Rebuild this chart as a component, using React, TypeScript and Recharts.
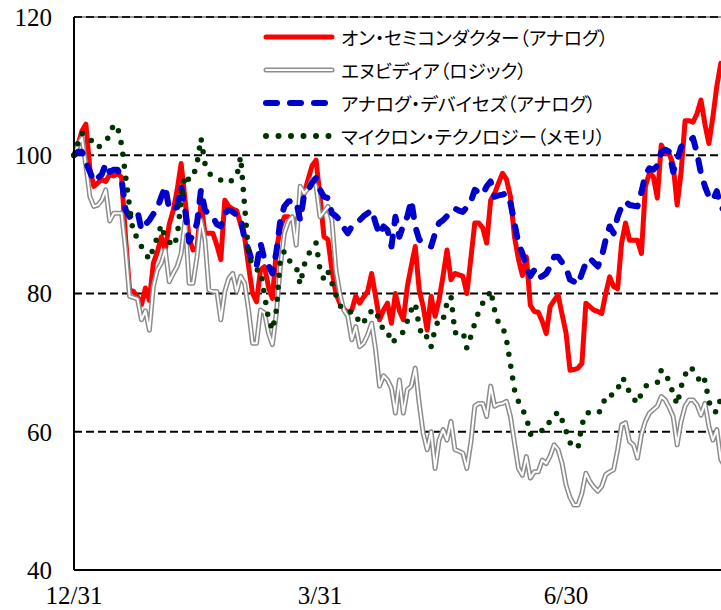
import { LineChart, Line, XAxis, YAxis, CartesianGrid, ReferenceLine, Legend } from "recharts";

// trading days since 12/31 where the quarter-end labels sit
const xTickDays = [0, 62, 124];
const xTickLabels = ["12/31", "3/31", "6/30"];
const xDomainEnd = 188;
const yTicks = [40, 60, 80, 100, 120];

const seriesLabels = {
    on: "オン・セミコンダクター（アナログ）",
    nvda: "エヌビディア（ロジック）",
    adi: "アナログ・デバイセズ（アナログ）",
    mu: "マイクロン・テクノロジー（メモリ）",
};

// indexed to 100 at 12/31, one value per trading day
const onSemi = [
    100, 101.5, 103.5, 104.5, 98, 95.5, 96, 96.5, 96.2, 97.2,
    97, 97.4, 96.8, 88, 80.5, 80.3, 79.5, 78.4, 80.8, 79,
    84.4, 86, 88.2, 86.3, 90, 92, 95, 98.8, 93.5, 88,
    86.3, 86.5, 93.1, 88.7, 88.7, 88.7, 87, 84.9, 93.5, 92.6,
    92.2, 92, 90, 88.2, 83.9, 80, 78.8, 83.4, 83.9, 81,
    79.3, 86.3, 89.5, 91.1, 91.1, 90.5, 90.2, 92, 94.5, 96.5,
    98.5, 99.3, 94, 88.2, 87.8, 83.4, 80, 78.6, 77.8, 77.2,
    77.6, 79.6, 78.6, 79.5, 80.3, 82.9, 79.6, 76.2, 77.6, 78.6,
    75.7, 80, 77.5, 76.2, 81, 84, 86.8, 80.5, 78.1, 74.7,
    79.6, 76.7, 79.1, 82.5, 86.3, 82, 82.9, 82.7, 82.5, 80,
    85, 90.2, 90.2, 89.5, 87.3, 93.5, 94.5, 96, 97.4, 96.5,
    94, 88.2, 85, 82.6, 85.3, 78.3, 77.4, 77.3, 76, 74.2,
    78.1, 79, 79.8, 77, 74.3, 68.9, 69, 69.2, 69.9, 78.6,
    78.1, 77.6, 77.4, 77.1, 80, 82.4, 81, 80.7, 87.3, 90.2,
    87.7, 87.7, 87.7, 85.8, 95.5, 97.4, 96.9, 93.8, 101.5, 100.3,
    100.2, 98.6, 92.8, 97.6, 105, 105, 104.8, 106, 108, 104.5,
    101.7, 105.5, 110, 113.3, 112,
];

const nvidia = [
    100, 101.5, 102.5, 98.5, 94, 92.6, 92.8, 93.5, 95, 90.5,
    91.6, 91.6, 91.6, 86.3, 79.6, 79.4, 79.2, 76.2, 77.5, 74.7,
    81, 83.4, 84.4, 86.3, 81.7, 82.9, 83.9, 85.8, 90.6, 81.5,
    81.5, 85.3, 90.6, 87.8, 80.5, 80.3, 80.3, 76.2, 80.3, 82.2,
    82.9, 80.3, 82.5, 81.5, 77.6, 72.8, 72.8, 77.6, 77.2, 74.3,
    72.6, 77.2, 83.9, 88.7, 90.4, 91.1, 87, 95.5, 94.5, 95.2,
    96.5, 95.5, 91.1, 91.8, 92.6, 90.6, 83.4, 80, 77.6, 76.7,
    73.3, 75.2, 72.3, 72.8, 74, 75.7, 71.9, 66.6, 68.1, 67.5,
    66.3, 62.7, 67.5, 62.7, 66.1, 66.6, 69.2, 64.1, 59.8, 57.4,
    60, 54.7, 58.8, 60.3, 58.8, 61.5, 57.4, 57.2, 56.9, 54.7,
    58.4, 63.7, 64.1, 64.1, 62.2, 66.6, 63.7, 64, 64.1, 64.4,
    62.2, 58.4, 54.7, 53.7, 56.4, 53.3, 54.2, 54.2, 55.9, 55.4,
    56.5, 58.1, 57.4, 55.4, 52.3, 50.5, 49.4, 49.4, 51.1, 54,
    52.8, 52, 51.4, 52.1, 53.8, 54.2, 54.5, 57.4, 61, 61.3,
    58.6, 58.1, 56.2, 59.6, 61.5, 62.7, 63.2, 63.7, 65.1, 64.6,
    63.5, 62.2, 58.1, 61.5, 63.7, 64.6, 64.6, 63.9, 62.4, 64.1,
    60.8, 58.8, 60.3, 56, 55,
];

const analogDevices = [
    100, 100.5, 100.5, 99, 97.6, 96.2, 96.7, 97.2, 98.8, 97.6,
    97.9, 97.9, 96.5, 92.1, 91.1, 91.5, 91.9, 89.2, 90, 90.6,
    91.5, 92.3, 94, 95.5, 92.1, 92.3, 92.5, 95.5, 92.1, 87.5,
    88.5, 90.2, 95, 92.1, 91.4, 91.1, 90, 89.7, 91.6, 92.1,
    91.8, 91.4, 91, 87.8, 86.3, 84.4, 83.9, 87.3, 84.9, 84.1,
    82.9, 86, 90.6, 92.6, 93.3, 93.4, 93.3, 90.6, 94.3, 95,
    96, 96.7, 95, 94, 93.8, 91.6, 91.2, 90.6, 89.5, 88.7,
    89.7, 90.2, 90.6, 91.2, 91.6, 92.1, 90.2, 88.5, 89.7, 89.2,
    86.8, 91.1, 88.2, 89.9, 91.1, 93.5, 89.7, 87.8, 87.3, 87,
    86.8, 88.7, 90.2, 90.6, 91.2, 91.6, 92.3, 92, 91.8, 92.5,
    93.3, 95, 94.6, 94.3, 95.5, 96.2, 94, 94.2, 94.3, 94.5,
    93.1, 90.2, 87.3, 85.8, 83.9, 82.5, 83.4, 82.2, 82.5, 82.9,
    83.9, 85.3, 85.3, 84.5, 83.7, 82, 81.7, 81.3, 82.9, 84.4,
    85.1, 84.5, 83.9, 85.3, 87.8, 89.7, 88.7, 91.1, 92.6, 93.3,
    92.8, 92.7, 92.6, 94.7, 97.2, 98.1, 97.9, 98.5, 100.5, 100.8,
    100.5, 97.6, 99.3, 101.2, 101.7, 102, 102.5, 100.3, 97.4, 95.5,
    94, 93.5, 94.8, 92.5, 92,
];

const micron = [
    100, 101.8, 103.2, 102.8, 102.6, 101.3, 101.2, 101.4, 102, 102.9,
    104.5, 104, 101.5, 97, 92.6, 88.5, 88.2, 86.8, 85.8, 84.9,
    86.6, 88.2, 89.9, 88, 87.5, 86.8, 88.2, 93.5, 97.2, 96.4,
    96.9, 98.8, 102.5, 98.8, 97.4, 97, 96.7, 96.4, 96.2, 96,
    96.5, 96.9, 99.8, 92.6, 85.8, 83.9, 83.4, 83.4, 79.8, 76.4,
    74.7, 77.6, 84.9, 86.1, 84.9, 84.4, 83.9, 81.3, 84.1, 85.6,
    86.5, 87.3, 83.4, 82, 83.2, 81.5, 79.8, 78.3, 77.6, 77.4,
    77.3, 77.2, 75.5, 76, 76.2, 77.6, 77.6, 76, 74.7, 74.6,
    72.8, 73.3, 73.8, 74.5, 76, 77.6, 78.6, 75.2, 73.5, 73.8,
    72.3, 74.9, 76.4, 76.2, 78.6, 79.6, 74.3, 74.4, 74.5, 72.1,
    73.8, 75.7, 77.4, 78.6, 79.1, 80.5, 77.6, 75.7, 75.3, 73.3,
    69.7, 66.1, 64.4, 63.2, 62.2, 59.6, 59.9, 60.1, 60.2, 60.3,
    61.7, 62.3, 62.9, 61.7, 60.1, 58.4, 58, 57.6, 61, 62.7,
    62.8, 62.9, 62.7, 63.2, 65.3, 65.3, 65.3, 66.1, 67.8, 67.3,
    65.6, 64.8, 64.1, 65.6, 66.6, 66.8, 67, 67.1, 68.9, 68.7,
    67.1, 65.6, 63.9, 66.5, 68.2, 69.4, 69, 68.2, 66.8, 67.5,
    64.4, 62.9, 62.9, 64.9, 65,
];

const data = onSemi.map((v, i) => ({
    day: i,
    on: v,
    nvda: nvidia[i],
    adi: analogDevices[i],
    mu: micron[i],
}));

const RED = "#ff0000";
const GRAY = "#8c8c8c";
const BLUE = "#0000cc";
const GREEN = "#003300";

const tickFont = { fontFamily: "'Liberation Serif', serif", fontSize: 25, fill: "#000" };

function LegendSample({ kind }: { kind: string }) {
    return (
        <svg width={74} height={14} style={{ display: "block" }}>
            {kind === "on" && (
                <line x1={4} y1={7} x2={70} y2={7} stroke={RED} strokeWidth={5} strokeLinecap="round" />
            )}
            {kind === "nvda" && (
                <>
                    <line x1={4} y1={7} x2={70} y2={7} stroke={GRAY} strokeWidth={5} strokeLinecap="round" />
                    <line x1={4} y1={7} x2={70} y2={7} stroke="#fff" strokeWidth={2} strokeLinecap="round" />
                </>
            )}
            {kind === "adi" && (
                <line x1={4} y1={7} x2={72} y2={7} stroke={BLUE} strokeWidth={6}
                    strokeDasharray="11 13" strokeLinecap="round" />
            )}
            {kind === "mu" && (
                <line x1={4} y1={7} x2={70} y2={7} stroke={GREEN} strokeWidth={6}
                    strokeDasharray="0 12.5" strokeLinecap="round" />
            )}
        </svg>
    );
}

const LegendBox = () => (
    <div style={{ fontFamily: "'Noto Sans CJK JP', sans-serif", fontSize: 18.7, color: "#000" }}>
        {(Object.keys(seriesLabels) as (keyof typeof seriesLabels)[]).map((k) => (
            <div key={k} style={{ display: "flex", alignItems: "center", height: 33 }}>
                <LegendSample kind={k} />
                <span style={{ marginLeft: 5, whiteSpace: "nowrap", fontFeatureSettings: '"palt"' }}>
                    {seriesLabels[k]}
                </span>
            </div>
        ))}
    </div>
);

export default function App() {
    return (
        <div style={{ position: "absolute", left: 0, top: 0, width: 721, height: 610, overflow: "hidden", background: "#fff" }}>
            <LineChart
                width={830}
                height={610}
                data={data}
                margin={{ top: 17, right: 10, left: 0, bottom: 0 }}
            >
                <CartesianGrid
                    horizontal
                    vertical={false}
                    stroke="#000"
                    strokeWidth={2}
                    strokeDasharray="8 4"
                />
                <ReferenceLine y={120} stroke="#333" strokeWidth={1} />
                <XAxis
                    dataKey="day"
                    type="number"
                    domain={[0, xDomainEnd]}
                    ticks={xTickDays}
                    tickFormatter={(d) => xTickLabels[xTickDays.indexOf(d)] ?? ""}
                    height={40}
                    tickLine={false}
                    tickSize={0}
                    tickMargin={16}
                    axisLine={{ stroke: "#000", strokeWidth: 2 }}
                    tick={tickFont}
                    interval={0}
                />
                <YAxis
                    type="number"
                    domain={[40, 120]}
                    ticks={yTicks}
                    width={74}
                    tickLine={false}
                    tickSize={0}
                    tickMargin={22}
                    axisLine={{ stroke: "#000", strokeWidth: 2 }}
                    tick={tickFont}
                    interval={0}
                />
                <Legend
                    layout="horizontal"
                    verticalAlign="middle"
                    align="center"
                    content={<LegendBox />}
                    wrapperStyle={{ left: 262, top: 20, width: 440 }}
                />
                <Line dataKey="on" stroke={RED} strokeWidth={5} dot={false} strokeLinejoin="round"
                    isAnimationActive={false} />
                <Line dataKey="nvda" stroke={GRAY} strokeWidth={5} dot={false} strokeLinejoin="round"
                    isAnimationActive={false} />
                <Line dataKey="nvda" stroke="#fff" strokeWidth={2} dot={false} strokeLinejoin="round"
                    isAnimationActive={false} legendType="none" />
                <Line dataKey="adi" stroke={BLUE} strokeWidth={6} dot={false} strokeDasharray="11 13"
                    strokeLinecap="round" strokeLinejoin="round" isAnimationActive={false} />
                <Line dataKey="mu" stroke={GREEN} strokeWidth={5.5} dot={false} strokeDasharray="0 12"
                    strokeLinecap="round" isAnimationActive={false} />
            </LineChart>
        </div>
    );
}
